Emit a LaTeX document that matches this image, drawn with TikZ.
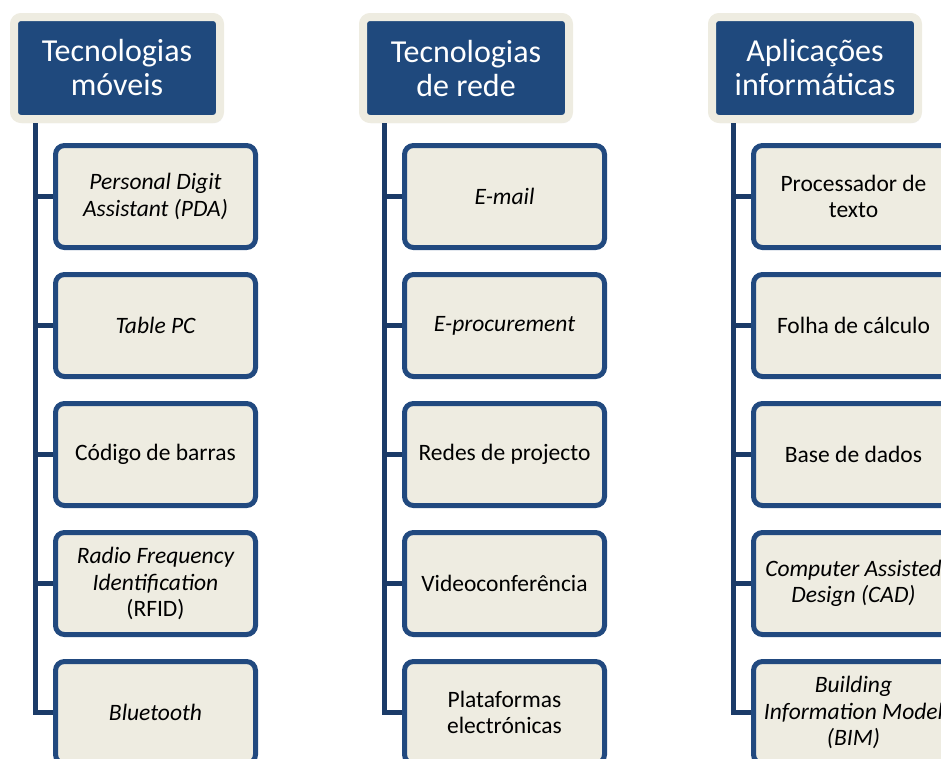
\documentclass[tikz,border=0pt]{standalone}
\usepackage{fontspec}
\setmainfont{Carlito}
\usetikzlibrary{shadows.blur}
\definecolor{headblue}{HTML}{1F497D}
\definecolor{boxline}{HTML}{21497F}
\definecolor{conncol}{HTML}{1B3B68}
\definecolor{cream}{HTML}{EEECE1}
\tikzset{
  headbox/.style={rectangle, rounded corners=7pt, fill=headblue, draw=cream,
    line width=8pt, minimum width=206pt, minimum height=102pt, text=white,
    align=center, font=\fontsize{32}{34}\selectfont, inner sep=0pt,
    blur shadow={shadow xshift=1.5pt, shadow yshift=-2.5pt, shadow blur steps=6, shadow opacity=35}},
  itembox/.style={rectangle, rounded corners=9pt, fill=cream, draw=boxline,
    line width=5pt, minimum width=200pt, minimum height=102pt, text=black,
    align=center, font=\fontsize{23.5}{26.5}\selectfont, inner sep=0pt},
  conn/.style={draw=conncol, line width=5pt}
}
\begin{document}
\begin{tikzpicture}[x=1pt, y=-1pt]
\useasboundingbox (0,0) rectangle (941,758);

% column headers
\node[headbox] (h1) at (117,68) {Tecnologias\\móveis};
\node[headbox] (h2) at (466,68) {Tecnologias\\de rede};
\node[headbox] (h3) at (815,68) {Aplicações\\informáticas};

% mobile technologies
\node[itembox] (a1) at (155.5,196.5) {\itshape Personal Digit\\\itshape Assistant (PDA)};
\node[itembox] (a2) at (155.5,325.5) {\itshape Table PC};
\node[itembox] (a3) at (155.5,454.5) {Código de barras};
\node[itembox] (a4) at (155.5,583.5) {\itshape Radio Frequency\\\itshape Identification\\(RFID)};
\node[itembox] (a5) at (155.5,712.5) {\itshape Bluetooth};

% network technologies
\node[itembox] (b1) at (504.5,196.5) {\itshape E-mail};
\node[itembox] (b2) at (504.5,325.5) {\itshape E-procurement};
\node[itembox] (b3) at (504.5,454.5) {Redes de projecto};
\node[itembox] (b4) at (504.5,583.5) {Videoconferência};
\node[itembox] (b5) at (504.5,712.5) {Plataformas\\electrónicas};

% software applications
\node[itembox] (d1) at (853.5,196.5) {Processador de\\texto};
\node[itembox] (d2) at (853.5,325.5) {Folha de cálculo};
\node[itembox] (d3) at (853.5,454.5) {Base de dados};
\node[itembox] (d4) at (853.5,583.5) {\itshape Computer Assisted\\\itshape Design (CAD)};
\node[itembox] (d5) at (853.5,712.5) {\itshape Building\\\itshape Information Model\\\itshape (BIM)};

% trunk tops under each header
\coordinate (t1) at ([xshift=25pt]h1.south west);
\coordinate (t2) at ([xshift=25pt]h2.south west);
\coordinate (t3) at ([xshift=25pt]h3.south west);

% trunks and branches
\foreach \t/\c in {t1/a, t2/b, t3/d} {
  \draw[conn] (\t) |- (\c5.west);
  \foreach \k in {1,...,4}
    \draw[conn] (\t |- \c\k.west) -- (\c\k.west);
}
\end{tikzpicture}
\end{document}
